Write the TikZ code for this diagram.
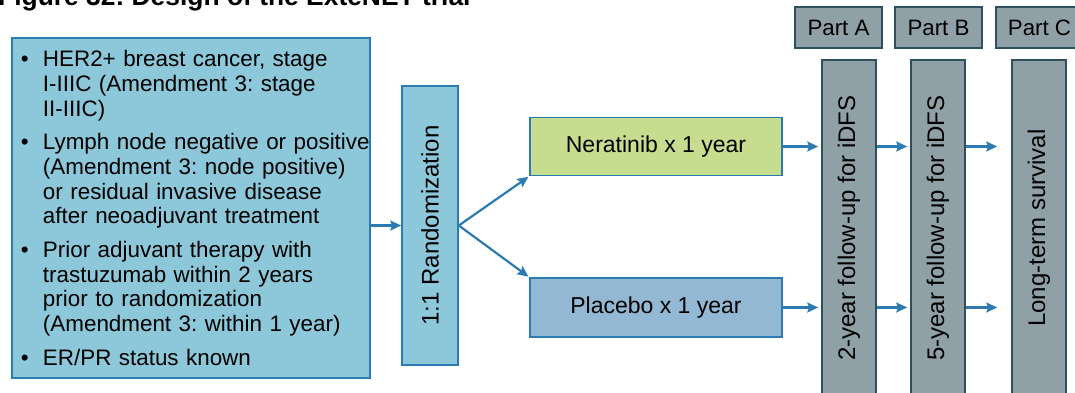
\documentclass[tikz,border=0pt]{standalone}
\usepackage{fontspec}
\setmainfont{Liberation Sans}
\usetikzlibrary{arrows.meta}

\definecolor{critfill}{HTML}{8DC8DA}
\definecolor{nerafill}{HTML}{C6DC8E}
\definecolor{placfill}{HTML}{93B8D4}
\definecolor{edgeblue}{HTML}{2B7BB2}
\definecolor{barfill}{HTML}{8FA1A7}
\definecolor{edgegrey}{HTML}{2E4F5E}

\newcommand{\critbul}[1]{\hspace*{5pt}\makebox[22pt][l]{\textbullet}\mbox{#1}}
\newcommand{\critind}[1]{\hspace*{27pt}\mbox{#1}}
\frenchspacing

\begin{document}
\begin{tikzpicture}[x=1pt,y=-1pt,
  box/.style={draw=edgeblue, line width=1.6pt, inner sep=0pt,
    font=\fontsize{23}{26}\selectfont},
  grey/.style={draw=edgegrey, fill=barfill, line width=1.6pt, inner sep=0pt,
    font=\fontsize{22.3}{26}\selectfont},
  upright/.style={font=\fontsize{24}{28}\selectfont},
  arr/.style={draw=edgeblue, line width=2.2pt,
    -{Stealth[length=11pt,width=10pt,inset=2pt]}, shorten >=3pt}]
  \useasboundingbox (0,0) rectangle (1075,393);

  % caption, cut at the top edge
  \node[anchor=base west, inner sep=0pt, font=\fontsize{26.4}{30}\bfseries\selectfont]
    (title) at (-2,5.5) {Figure 32: Design of the ExteNET trial};

  % eligibility
  \node[box, fill=critfill, minimum width=358pt, minimum height=340pt,
    text width=350pt, align=left, font=\fontsize{22.4}{24.7}\selectfont]
    (crit) at (191,208) {%
    \critbul{HER2+ breast cancer, stage}\\
    \critind{I-IIIC (Amendment 3: stage}\\
    \critind{II-IIIC)}\\[9pt]
    \critbul{Lymph node negative or positive}\\
    \critind{(Amendment 3: node positive)}\\
    \critind{or residual invasive disease}\\
    \critind{after neoadjuvant treatment}\\[9pt]
    \critbul{Prior adjuvant therapy with}\\
    \critind{trastuzumab within 2 years}\\
    \critind{prior to randomization}\\
    \critind{(Amendment 3: within 1 year)}\\[9pt]
    \critbul{ER/PR status known}};

  \node[box, upright, fill=critfill, minimum width=56pt, minimum height=279pt]
    (rand) at (430,225.5) {\rotatebox{90}{1:1 Randomization}};

  % the two arms
  \node[box, fill=nerafill, minimum width=252pt, minimum height=58pt]
    (nera) at (656,146.5) {Neratinib x 1 year};
  \node[box, fill=placfill, minimum width=252pt, minimum height=59pt]
    (plac) at (656,307.5) {Placebo x 1 year};

  % parts A-C
  \node[grey, minimum width=87pt, minimum height=41pt] (partA) at (838.5,27.5) {Part A};
  \node[grey, minimum width=87pt, minimum height=41pt] (partB) at (938.5,27.5) {Part B};
  \node[grey, minimum width=87pt, minimum height=41pt] (partC) at (1039.5,27.5) {Part C};

  \node[grey, upright, minimum width=54pt, minimum height=336pt]
    (barA) at (849,228) {\rotatebox{90}{2-year follow-up for iDFS}};
  \node[grey, upright, minimum width=54pt, minimum height=336pt]
    (barB) at (938,228) {\rotatebox{90}{5-year follow-up for iDFS}};
  \node[grey, upright, minimum width=54pt, minimum height=336pt]
    (barC) at (1039,228) {\rotatebox{90}{Long-term survival}};

  % connectors
  \draw[arr, shorten >=0pt] (crit.east |- rand.west) -- (rand.west);
  \draw[arr, shorten >=1pt] (rand.east) -- (nera.south west);
  \draw[arr, shorten >=1pt] (rand.east) -- (plac.north west);

  \draw[arr] (nera.east) -- (nera.east -| barA.west);
  \draw[arr] (plac.east) -- (plac.east -| barA.west);
  \draw[arr] (nera.east -| barA.east) -- (nera.east -| barB.west);
  \draw[arr] (plac.east -| barA.east) -- (plac.east -| barB.west);
  \draw[arr, shorten >=14pt] (nera.east -| barB.east) -- (nera.east -| barC.west);
  \draw[arr, shorten >=14pt] (plac.east -| barB.east) -- (plac.east -| barC.west);
\end{tikzpicture}
\end{document}
